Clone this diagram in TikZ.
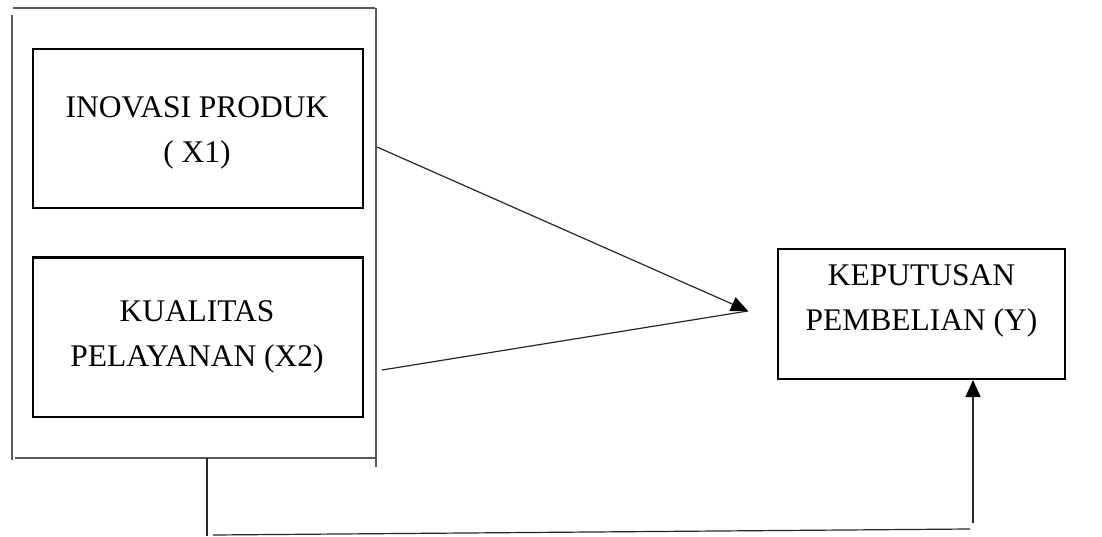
\documentclass[tikz,border=0pt]{standalone}
\usepackage{fontspec}
\setmainfont{Liberation Serif}
\usetikzlibrary{arrows.meta}
\begin{document}
\begin{tikzpicture}[x=1pt,y=-1pt,
  boxline/.style={draw=black,line width=2pt,inner sep=0pt},
  lbl/.style={align=center,inner sep=0pt,font=\fontsize{31.5}{45}\selectfont},
  outer/.style={draw=black!65,line width=1.4pt},
  conn/.style={draw=black!85,line width=1.2pt},
  tip/.style={-{Triangle[length=17pt,width=15pt,fill=black,color=black]}}]
\useasboundingbox (0,0) rectangle (1102,537);
% outer frame
\draw[outer] (13,8) -- (375,8);
\draw[outer] (12,15) -- (12,460);
\draw[outer] (376,8) -- (376,467);
\draw[outer] (15,458) -- (376,458);
% boxes
\node[boxline,minimum width=330pt,minimum height=159pt] (x1) at (198,128.5) {};
\node[lbl] (x1t) at (197,133) {INOVASI PRODUK\\( X1)};
\node[boxline,minimum width=330pt,minimum height=159pt] (x2) at (198,337) {};
\node[lbl] (x2t) at (197,336.5) {KUALITAS\\PELAYANAN (X2)};
\node[boxline,minimum width=287pt,minimum height=130pt] (y) at (921.5,314) {};
\node[lbl] (yt) at (921.5,300.5) {KEPUTUSAN\\PEMBELIAN (Y)};
% connectors
\coordinate (tipc) at (748,311);
\coordinate (a1) at (377,147);
\coordinate (a2) at (382,370);
\draw[conn,tip] (a1) -- (tipc);
\draw[conn] (a2) -- (tipc);
\coordinate (b0) at (207,458);
\coordinate (b1) at (207,536);
\coordinate (b2) at (213,535);
\coordinate (b3) at (970,529);
\coordinate (b4) at (973,523);
\draw[conn] (b0) -- (b1);
\draw[conn] (b2) -- (b3);
\draw[conn,tip] (b4) -- (y.south -| b4);
\end{tikzpicture}
\end{document}
